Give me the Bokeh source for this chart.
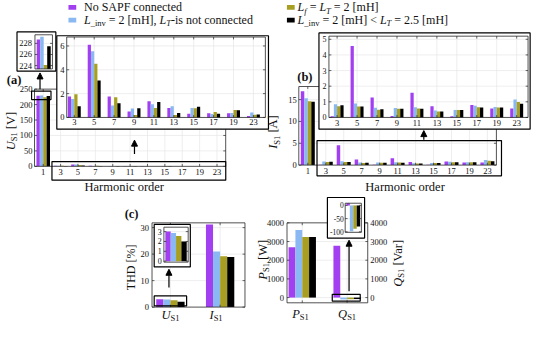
import numpy as np
from bokeh.plotting import figure
from bokeh.models import Range1d, Arrow, NormalHead
from bokeh.core.properties import value
from bokeh.embed import file_html
from bokeh.resources import INLINE

# ------------------------------------------------------------------ data
series_colors = ["#a23ff0", "#8ab8f2", "#a89f22", "#000000"]

harmonic_orders = ["3", "5", "7", "9", "11", "13", "15", "17", "19", "23"]
all_orders = ["1"] + harmonic_orders

# (a) source voltage spectrum U_S1 [V]
us1_fundamental = [228.7, 229.2, 224.1, 227.5]
us1_h_no_sapf = [1.75, 6.1, 1.75, 0.5, 1.35, 0.8, 0.3, 0.35, 0.35, 0.12]
us1_h_linv = [1.55, 5.55, 1.0, 0.75, 1.1, 0.95, 0.8, 0.28, 0.38, 0.42]
us1_h_lf_lt = [1.95, 4.5, 1.7, 0.2, 0.8, 0.2, 0.78, 0.45, 0.62, 0.22]
us1_h_linv_lt = [0.95, 3.1, 1.2, 0.78, 1.3, 0.38, 0.9, 0.3, 0.6, 0.25]

# (b) source current spectrum I_S1 [A]
is1_fundamental = [16.9, 15.3, 14.6, 14.5]
is1_h_no_sapf = [0.08, 4.57, 1.28, 0.1, 1.58, 0.72, 0.08, 0.8, 0.57, 0.57]
is1_h_linv = [0.85, 0.9, 0.62, 0.6, 0.65, 0.45, 0.47, 0.75, 0.67, 1.14]
is1_h_lf_lt = [0.72, 0.7, 0.5, 0.55, 0.58, 0.38, 0.47, 0.65, 0.63, 0.98]
is1_h_linv_lt = [0.78, 0.7, 0.52, 0.55, 0.55, 0.38, 0.48, 0.63, 0.63, 0.88]

# (c) THD and powers
thd_categories = [("U", "S1"), ("I", "S1")]
thd_us1 = [3.0, 2.85, 2.55, 2.0]
thd_is1 = [31.2, 21.0, 19.2, 18.9]
power_categories = [("P", "S1"), ("Q", "S1")]
ps1 = [2700, 3620, 3240, 3240]
qs1 = [2780, -98, -88, -80]

# tick values
us_main_ticks = [0, 50, 100, 150, 200, 250]
us_harm_ticks = [0, 2, 4, 6]
us_fund_ticks = [224, 226, 228]
is_main_ticks = [0, 5, 10, 15]
is_harm_ticks = [0, 1, 2, 3, 4, 5]
thd_ticks = [0, 10, 20, 30]
thd_zoom_ticks = [0, 1, 2, 3]
pq_ticks = [0, 1000, 2000, 3000, 4000]
q_zoom_ticks = [0, -50, -100]

# legend (rich text pieces: text, size, style, subscript)
legend_rich = [
    [("No SAPF connected", 12, "normal", 0)],
    [("L", 12, "italic", 0), ("_inv", 8.5, "normal", 3.2), (" = 2 [mH], ", 12, "normal", 0),
     ("L", 12, "italic", 0), ("T", 8.5, "italic", 3.2), ("-is not connected", 12, "normal", 0)],
    [("L", 12, "italic", 0), ("f", 8.5, "italic", 3.2), (" = ", 12, "normal", 0),
     ("L", 12, "italic", 0), ("T", 8.5, "italic", 3.2), (" = 2 [mH]", 12, "normal", 0)],
    [("L", 12, "italic", 0), ("_inv", 8.5, "normal", 3.2), (" = 2 [mH] < ", 12, "normal", 0),
     ("L", 12, "italic", 0), ("T", 8.5, "italic", 3.2), (" = 2.5 [mH]", 12, "normal", 0)],
]

# ------------------------------------------------------------------ layout (reference pixel space)
W, H = 534, 325
RW, RH = 550.0, 341.0
SX, SY = W / RW, H / RH
FONT = value("Liberation Serif, Times New Roman, Times, serif")
TXT = "#111111"

LAYOUT = {
    "a_main": dict(xd=(0, 10), xp=(44, 223), yd=(0, 250), yp=(174, 93), xlim=(-0.5, 10.5), ylim=(0, 250)),
    "a_harm": dict(xd=(0, 9), xp=(76, 260.5), yd=(0, 6), yp=(122.7, 47.7), xlim=(-0.38, 9.6), ylim=(0, 6.75)),
    "a_fund": dict(xd=(-0.5, 0.5), xp=(35.5, 53.5), yd=(224, 228), yp=(68.3, 45), xlim=(-0.5, 0.5), ylim=(223.4, 229.55)),
    "b_main": dict(xd=(0, 10), xp=(316.5, 501.5), yd=(0, 15), yp=(172.7, 104), xlim=(-0.5, 10.5), ylim=(0, 18)),
    "b_harm": dict(xd=(0, 9), xp=(346.7, 531.65), yd=(0, 5), yp=(122.7, 40.7), xlim=(-0.41, 9.57), ylim=(0, 5.2)),
    "thd": dict(xd=(0, 1), xp=(175, 226.2), yd=(0, 30), yp=(321.7, 238.3), xlim=(-0.37, 1.5), ylim=(0, 31.8)),
    "thd_zoom": dict(xd=(-0.5, 0.5), xp=(168.3, 193.3), yd=(0, 3), yp=(273.5, 242.5), xlim=(-0.5, 0.5), ylim=(-0.1, 3.45)),
    "pq": dict(xd=(0, 1), xp=(310.8, 357), yd=(0, 4000), yp=(311.7, 233.3), xlim=(-0.34, 1.46), ylim=(-280, 4000)),
    "q_zoom": dict(xd=(-0.5, 0.5), xp=(355, 371.7), yd=(-100, 0), yp=(242.7, 215), xlim=(-0.5, 0.5), ylim=(-102, 8.3)),
}

p = figure(width=W, height=H, x_range=Range1d(0, RW), y_range=Range1d(RH, 0),
           x_axis_type=None, y_axis_type=None, toolbar_location=None,
           output_backend="svg", min_border=0)
p.outline_line_color = None
p.background_fill_color = "white"
p.border_fill_color = "white"

TW = {' ': 250, '!': 333, '%': 833, '(': 333, ')': 333, ',': 250, '-': 333, '.': 250,
      '<': 564, '=': 564, '>': 564, '[': 333, ']': 333, '_': 500}
for d in "0123456789":
    TW[d] = 500
TW.update(dict(A=722, B=667, C=667, D=722, E=611, F=556, G=722, H=722, I=333, J=389, K=722, L=611,
               M=889, N=722, O=722, P=556, Q=722, R=667, S=556, T=611, U=722, V=722, W=944, X=722,
               Y=722, Z=611))
TW.update(dict(a=444, b=500, c=444, d=500, e=444, f=333, g=500, h=500, i=278, j=278, k=500, l=278,
               m=778, n=500, o=500, p=500, q=500, r=333, s=389, t=278, u=500, v=500, w=722, x=500,
               y=500, z=444))
TWI = dict(L=556, U=722, I=333, P=611, Q=722, T=556, f=278)


def text_width(t, size, style):
    tot = 0
    for c in t:
        if style == "italic" and c in TWI:
            tot += TWI[c]
        else:
            tot += TW.get(c, 500)
    return tot / 1000.0 * size


def rich(pieces, x, y, align="left", vertical=False):
    ws = [text_width(t, sz, st) for (t, sz, st, sh) in pieces]
    total = sum(ws)
    pos = -total / 2 if align == "center" else 0.0
    for (t, sz, st, sh), w in zip(pieces, ws):
        lead = text_width(t[:len(t) - len(t.lstrip())], sz, st)
        if vertical:
            px_, py_, ang = x + sh / SX, y - (pos + lead) / SY, np.pi / 2
        else:
            px_, py_, ang = x + (pos + lead) / SX, y + sh / SY, 0.0
        p.text(x=[px_], y=[py_], text=[t.strip()], text_font=FONT,
               text_font_size=f"{sz}px", text_font_style=st, text_align="left",
               text_baseline="middle", text_color=TXT, angle=ang)
        pos += w


def ref_box(l, r, t, b, fill=None, lw=1.2, color="black"):
    p.quad(left=[l], right=[r], top=[t], bottom=[b], fill_color=fill,
           line_color=color, line_width=lw)


class Panel:
    def __init__(self, name):
        L = LAYOUT[name]
        xd, xp, yd, yp = L["xd"], L["xp"], L["yd"], L["yp"]
        self.kx = (xp[1] - xp[0]) / (xd[1] - xd[0])
        self.ky = (yp[1] - yp[0]) / (yd[1] - yd[0])
        x0 = xd[0] - xp[0] / self.kx
        x1 = xd[0] + (RW - xp[0]) / self.kx
        y0 = yd[0] + (RH - yp[0]) / self.ky
        y1 = yd[0] + (0 - yp[0]) / self.ky
        p.extra_x_ranges[name + "_x"] = Range1d(x0, x1)
        p.extra_y_ranges[name + "_y"] = Range1d(y0, y1)
        self.kw = dict(x_range_name=name + "_x", y_range_name=name + "_y")
        self.xlim, self.ylim = L["xlim"], L["ylim"]

    def dx(self, px):
        return px / self.kx

    def dy(self, px):
        return px / abs(self.ky)

    def back(self):
        p.quad(left=[self.xlim[0]], right=[self.xlim[1]], bottom=[self.ylim[0]], top=[self.ylim[1]],
               fill_color="white", line_color=None, **self.kw)

    def outline(self, lw=0.8):
        p.quad(left=[self.xlim[0]], right=[self.xlim[1]], bottom=[self.ylim[0]], top=[self.ylim[1]],
               fill_color=None, line_color="#262626", line_width=lw, **self.kw)

    def grid(self, xs, ys):
        xs = list(xs)
        ys = [v for v in ys if self.ylim[0] < v < self.ylim[1]]
        if xs:
            p.segment(x0=xs, x1=xs, y0=[self.ylim[0]] * len(xs), y1=[self.ylim[1]] * len(xs),
                      line_color="#e2e2e2", line_width=0.6, **self.kw)
        if ys:
            p.segment(x0=[self.xlim[0]] * len(ys), x1=[self.xlim[1]] * len(ys), y0=ys, y1=ys,
                      line_color="#e2e2e2", line_width=0.6, **self.kw)

    def ticks(self, xs, ys, length=2.5):
        xs = list(xs)
        ys = [v for v in ys if self.ylim[0] <= v <= self.ylim[1]]
        lx, ly = self.dx(length), self.dy(length)
        n = len(ys)
        p.segment(x0=[self.xlim[0]] * n, x1=[self.xlim[0] + lx] * n, y0=ys, y1=ys,
                  line_color="#262626", line_width=0.7, **self.kw)
        p.segment(x0=[self.xlim[1]] * n, x1=[self.xlim[1] - lx] * n, y0=ys, y1=ys,
                  line_color="#262626", line_width=0.7, **self.kw)
        m = len(xs)
        if m:
            p.segment(x0=xs, x1=xs, y0=[self.ylim[0]] * m, y1=[self.ylim[0] + ly] * m,
                      line_color="#262626", line_width=0.7, **self.kw)
            p.segment(x0=xs, x1=xs, y0=[self.ylim[1]] * m, y1=[self.ylim[1] - ly] * m,
                      line_color="#262626", line_width=0.7, **self.kw)

    def ylabels(self, ys, size, pad=2.5, side="left"):
        if side == "left":
            x, align = self.xlim[0] - self.dx(pad), "right"
        else:
            x, align = self.xlim[1] + self.dx(pad), "left"
        p.text(x=[x] * len(ys), y=ys, text=[str(v) for v in ys], text_font=FONT,
               text_font_size=f"{size}px", text_align=align, text_baseline="middle",
               text_color=TXT, **self.kw)

    def xlabels(self, labels, size, pad=5.5):
        y = self.ylim[0] - self.dy(pad)
        p.text(x=list(range(len(labels))), y=[y] * len(labels), text=labels, text_font=FONT,
               text_font_size=f"{size}px", text_align="center", text_baseline="middle",
               text_color=TXT, **self.kw)

    def bars(self, series, group, base=0.0, clip=True):
        n = len(series)
        bw = group / n
        for j, vals in enumerate(series):
            vals = np.asarray(vals, dtype=float)
            if clip:
                vals = np.clip(vals, self.ylim[0], self.ylim[1])
            x = np.arange(len(vals)) + (j - (n - 1) / 2.0) * bw
            p.vbar(x=x, top=vals, bottom=base, width=bw, fill_color=series_colors[j],
                   line_color=None, **self.kw)


us1_harm = [us1_h_no_sapf, us1_h_linv, us1_h_lf_lt, us1_h_linv_lt]
is1_harm = [is1_h_no_sapf, is1_h_linv, is1_h_lf_lt, is1_h_linv_lt]
us1_all = [[f] + list(h) for f, h in zip(us1_fundamental, us1_harm)]
is1_all = [[f] + list(h) for f, h in zip(is1_fundamental, is1_harm)]
thd_series = [[u, i] for u, i in zip(thd_us1, thd_is1)]
pq_series = [[pp, qq] for pp, qq in zip(ps1, qs1)]

# ------------------------------------------------------------------ main panels
a = Panel("a_main")
a.back(); a.grid(range(len(all_orders)), us_main_ticks); a.bars(us1_all, 0.78)
a.outline(); a.ticks(range(len(all_orders)), us_main_ticks)
a.ylabels(us_main_ticks, 8.5, pad=2.2); a.xlabels(all_orders, 8.5, pad=6)

b = Panel("b_main")
b.back(); b.grid(range(len(all_orders)), is_main_ticks); b.bars(is1_all, 0.78)
b.outline(); b.ticks(range(len(all_orders)), is_main_ticks)
b.ylabels(is_main_ticks, 8.5, pad=2.2); b.xlabels(all_orders, 8.5, pad=6)

c1 = Panel("thd")
c1.back(); c1.grid(range(2), thd_ticks); c1.bars(thd_series, 0.57)
c1.outline(); c1.ticks(range(2), thd_ticks); c1.ylabels(thd_ticks, 8.5, pad=3)

c2 = Panel("pq")
c2.back(); c2.grid(range(2), pq_ticks); c2.bars(pq_series, 0.61)
c2.outline(); c2.ticks(range(2), pq_ticks)
c2.ylabels(pq_ticks, 8.5, pad=3); c2.ylabels(pq_ticks, 8.5, pad=2.7, side="right")

# zoom source boxes
ref_box(32, 52, 95, 104)
ref_box(53, 232, 169, 188.5)
ref_box(326, 516, 147, 184)
ref_box(158.3, 191.7, 310, 320.5)
ref_box(341.7, 370.5, 308.3, 315.5)

# ------------------------------------------------------------------ insets
ref_box(58, 276, 37, 135, fill="white")
ai = Panel("a_harm")
ai.back(); ai.grid(range(len(harmonic_orders)), us_harm_ticks); ai.bars(us1_harm, 0.65)
ai.outline(); ai.ticks(range(len(harmonic_orders)), us_harm_ticks)
ai.ylabels(us_harm_ticks, 8.5, pad=2.3); ai.xlabels(harmonic_orders, 8.5, pad=5)

ref_box(17, 57, 33, 74, fill="white")
af = Panel("a_fund")
af.back(); af.grid([], us_fund_ticks)
af.bars([[v] for v in us1_fundamental], 0.8, base=LAYOUT["a_fund"]["ylim"][0])
af.outline(); af.ticks([], us_fund_ticks); af.ylabels(us_fund_ticks, 8.5, pad=3)

ref_box(328, 545.5, 34, 135, fill="white")
bi = Panel("b_harm")
bi.back(); bi.grid(range(len(harmonic_orders)), is_harm_ticks); bi.bars(is1_harm, 0.65)
bi.outline(); bi.ticks(range(len(harmonic_orders)), is_harm_ticks)
bi.ylabels(is_harm_ticks, 8, pad=2.5); bi.xlabels(harmonic_orders, 8.5, pad=5.5)

ref_box(158.3, 195.5, 235, 279.5, fill="white")
ti = Panel("thd_zoom")
ti.back(); ti.grid([], thd_zoom_ticks); ti.bars([[v] for v in thd_us1], 0.88)
ti.outline(); ti.ticks([], thd_zoom_ticks); ti.ylabels(thd_zoom_ticks, 8, pad=2.3)

ref_box(336.7, 375, 206.7, 249.3, fill="white")
qi = Panel("q_zoom")
qi.back(); qi.grid([], q_zoom_ticks); qi.bars([[v] for v in qs1], 0.85)
qi.outline(); qi.ticks([], q_zoom_ticks); qi.ylabels(q_zoom_ticks, 7.5, pad=1.5)

# ------------------------------------------------------------------ arrows
for (xa, ys_, ye_) in [(40.7, 93, 76), (138, 161, 146.5), (436, 146, 136.5),
                       (173.5, 301, 282), (359, 305, 251.5)]:
    p.add_layout(Arrow(end=NormalHead(size=6, fill_color="black", line_color="black"),
                       x_start=xa, y_start=ys_, x_end=xa, y_end=ye_,
                       line_color="black", line_width=1.2))

# ------------------------------------------------------------------ legend
leg_pos = [(74, 7.3, 86), (74, 20.7, 86), (299, 7.3, 306), (299, 20.7, 306)]
p.rect(x=[q[0] for q in leg_pos], y=[q[1] for q in leg_pos], width=8, height=5,
       fill_color=series_colors, line_color=None)
for (mx, my, tx), pieces in zip(leg_pos, legend_rich):
    rich(pieces, tx, my)

# ------------------------------------------------------------------ axis labels
rich([("U", 12.5, "italic", 0), ("S1", 8.5, "normal", 3.2), (" [V]", 12.5, "normal", 0)], 11, 137, "center", True)
rich([("I", 12.5, "italic", 0), ("S1", 8.5, "normal", 3.2), (" [A]", 12.5, "normal", 0)], 281, 138, "center", True)
rich([("THD [%]", 12, "normal", 0)], 134, 280, "center", True)
rich([("P", 12.5, "italic", 0), ("S1", 8.5, "normal", 3.2), (" [W]", 12.5, "normal", 0)], 270, 272, "center", True)
rich([("Q", 12.5, "italic", 0), ("S1", 8.5, "normal", 3.2), (" [Var]", 12.5, "normal", 0)], 409, 275, "center", True)

rich([("Harmonic order", 12.5, "normal", 0)], 127.5, 196, "center")
rich([("Harmonic order", 12.5, "normal", 0)], 416.7, 196, "center")

for (xc, (main, sub)) in zip([175, 222], thd_categories):
    rich([(main, 12.5, "italic", 0), (sub, 8.5, "normal", 3.2)], xc, 330, "center")
for (xc, (main, sub)) in zip([309, 357], power_categories):
    rich([(main, 12.5, "italic", 0), (sub, 8.5, "normal", 3.2)], xc, 329, "center")

for (lbl, xl, yl) in [("(a)", 14, 83), ("(b)", 313.5, 80), ("(c)", 135, 224)]:
    p.text(x=[xl], y=[yl], text=[lbl], text_font=FONT, text_font_size="12.5px",
           text_font_style="bold", text_align="center", text_baseline="middle", text_color=TXT)

open("out.html", "w").write(file_html(p, INLINE))
